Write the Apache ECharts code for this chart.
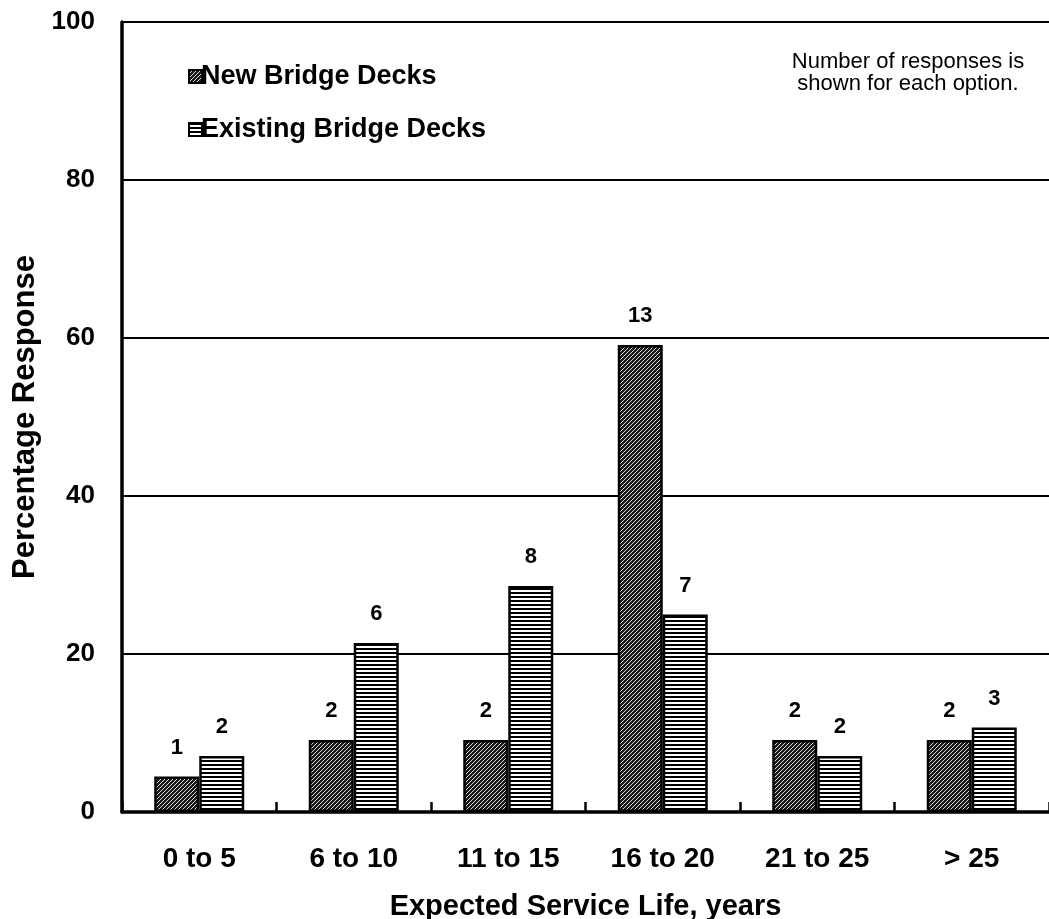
<!DOCTYPE html>
<html><head><meta charset="utf-8">
<script src="https://cdn.jsdelivr.net/npm/echarts@6/dist/echarts.min.js"></script>
<style>html,body{margin:0;padding:0;background:#fff}#c{width:1049px;height:919px}</style>
</head><body><div id="c"></div>
<script>
const categories = ['0 to 5','6 to 10','11 to 15','16 to 20','21 to 25','> 25'];
const newPct = [4.5, 9.1, 9.1, 59.1, 9.1, 9.1];
const existingPct = [7.1, 21.4, 28.6, 25.0, 7.1, 10.7];
const newCounts = [1, 2, 2, 13, 2, 2];
const existingCounts = [2, 6, 8, 7, 2, 3];
const yTicks = [0, 20, 40, 60, 80, 100];

function diagPattern(){
  const c = document.createElement('canvas'); c.width = 4; c.height = 4;
  const g = c.getContext('2d');
  g.fillStyle = '#1a1a1a'; g.fillRect(0,0,4,4);
  g.fillStyle = '#d8d8d8';
  g.fillRect(3,0,1,1); g.fillRect(2,1,1,1); g.fillRect(1,2,1,1); g.fillRect(0,3,1,1);
  return c;
}
function horizPattern(){
  const c = document.createElement('canvas'); c.width = 4; c.height = 4;
  const g = c.getContext('2d');
  g.fillStyle = '#ffffff'; g.fillRect(0,0,4,4);
  g.fillStyle = '#000000'; g.fillRect(0,0,4,2);
  return c;
}
const newFill = {image: diagPattern(), repeat: 'repeat'};
const exFill = {image: horizPattern(), repeat: 'repeat'};

const chart = echarts.init(document.getElementById('c'));
const font = 'Liberation Sans, Arial, sans-serif';
chart.setOption({
  animation: false,
  textStyle: {fontFamily: font},
  grid: {left: 122, right: 0, top: 22, bottom: 107, containLabel: false, outerBoundsMode: 'none'},
  legend: {
    orient: 'vertical', left: 183, top: 58, itemWidth: 13, itemHeight: 13, itemGap: 26,
    icon: 'rect',
    textStyle: {fontFamily: font, fontWeight: 'bold', fontSize: 27, color: '#000', padding: [0,0,0,-6]},
    data: ['New Bridge Decks', 'Existing Bridge Decks']
  },
  graphic: [{
    type: 'text', x: 908, y: 73,
    style: {text: 'Number of responses is\nshown for each option.', font: '22px ' + font, fill: '#000', textAlign: 'center', textVerticalAlign: 'middle', lineHeight: 22}
  }],
  xAxis: {
    type: 'category', data: categories,
    axisLine: {lineStyle: {color: '#000', width: 3.5}},
    axisTick: {show: true, interval: 0, inside: true, length: 10, lineStyle: {color: '#000', width: 2.5}},
    axisLabel: {fontFamily: font, fontWeight: 'bold', fontSize: 28, color: '#000', margin: 33},
    name: 'Expected Service Life, years', nameLocation: 'middle', nameGap: 80,
    nameTextStyle: {fontFamily: font, fontWeight: 'bold', fontSize: 29, color: '#000'}
  },
  yAxis: {
    type: 'value', min: 0, max: 100, interval: 20,
    axisLine: {show: true, lineStyle: {color: '#000', width: 3.5}},
    axisTick: {show: false},
    splitLine: {lineStyle: {color: '#000', width: 2}},
    axisLabel: {fontFamily: font, fontWeight: 'bold', fontSize: 26, color: '#000', margin: 27},
    name: 'Percentage Response', nameLocation: 'middle', nameGap: 78, nameRotate: 90,
    nameTextStyle: {fontFamily: font, fontWeight: 'bold', fontSize: 31, color: '#000'}
  },
  series: [
    {name: 'New Bridge Decks', type: 'bar', data: newPct, barWidth: 45, barGap: '0%',
     itemStyle: {color: newFill, borderColor: '#000', borderWidth: 2.5},
     label: {show: true, position: 'top', distance: 18, fontFamily: font, fontWeight: 'bold', fontSize: 22, color: '#000',
       formatter: p => String(newCounts[p.dataIndex])}},
    {name: 'Existing Bridge Decks', type: 'bar', data: existingPct, barWidth: 45, barGap: '0%',
     itemStyle: {color: exFill, borderColor: '#000', borderWidth: 2.5},
     label: {show: true, position: 'top', distance: 18, fontFamily: font, fontWeight: 'bold', fontSize: 22, color: '#000',
       formatter: p => String(existingCounts[p.dataIndex])}}
  ]
});
</script></body></html>
